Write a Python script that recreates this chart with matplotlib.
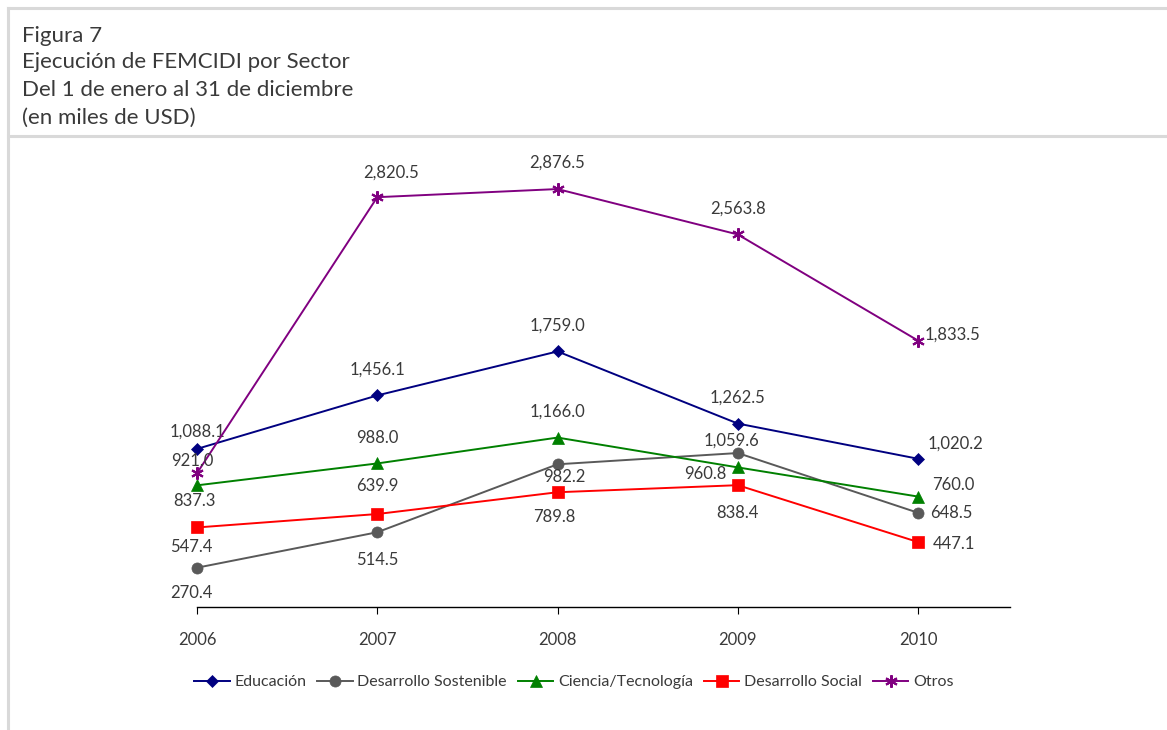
import matplotlib
matplotlib.use("Agg")
import matplotlib.pyplot as plt
from matplotlib.lines import Line2D

years = [2006, 2007, 2008, 2009, 2010]
series_names = ["Educación", "Desarrollo Sostenible", "Ciencia/Tecnología", "Desarrollo Social", "Otros"]
educacion = [1088.1, 1456.1, 1759.0, 1262.5, 1020.2]
sostenible = [270.4, 514.5, 982.2, 1059.6, 648.5]
ciencia = [837.3, 988.0, 1166.0, 960.8, 760.0]
social = [547.4, 639.9, 789.8, 838.4, 447.1]
otros = [921.0, 2820.5, 2876.5, 2563.8, 1833.5]
title_lines = ["Figura 7", "Ejecución de FEMCIDI por Sector",
               "Del 1 de enero al 31 de diciembre", "(en miles de USD)"]

values = [educacion, sostenible, ciencia, social, otros]
colors = ["#000080", "#595959", "#008000", "#FF0000", "#800080"]
markers = ["D", "o", "^", "s", (6, 2, 0)]
msizes = [6, 8, 8, 8, 9]
# label offsets in pixels (dx, dy with dy positive = up)
offsets = [
    [(0, 17), (0, 26), (0, 26), (0, 26), (37, 15)],
    [(-6, -25), (0, -28), (7, -13), (-6, 12), (33, 0)],
    [(-3, -16), (0, 25), (0, 26), (-32, -7), (35, 12)],
    [(-6, -20), (0, 28), (-3, -25), (0, -28), (36, -2)],
    [(-5, 12), (14, 25), (0, 26), (0, 26), (34, 6)],
]

plt.rcParams['font.family'] = ['Lato', 'DejaVu Sans']
W, H = 1167, 730
fig = plt.figure(figsize=(W / 100, H / 100), dpi=100)

def fx(px):
    return px / W

def fy(py):
    return 1 - py / H

# frame lines
border = "#d9d9d9"
fig.add_artist(Line2D([fx(8), 1], [fy(8), fy(8)], color=border, lw=2.2))
fig.add_artist(Line2D([fx(8), 1], [fy(136), fy(136)], color=border, lw=2.2))
fig.add_artist(Line2D([fx(8), fx(8)], [fy(8), 0], color=border, lw=2.2))

text_color = "#3a3a3a"
baselines = [42, 68.5, 96, 123.5]
for line, b in zip(title_lines, baselines):
    fig.text(fx(22), fy(b), line, fontsize=16, color=text_color,
             va="baseline", ha="left")

ax_left, ax_right = 197, 1010
ax_bottom = 607
ymax = 3000
scale = 0.1453
ax_top = ax_bottom - ymax * scale
ax = fig.add_axes([fx(ax_left), fy(ax_bottom), fx(ax_right - ax_left),
                   (ax_bottom - ax_top) / H])
ax.set_xlim(2006, 2010.51)
ax.set_ylim(0, ymax)

for name, vals, c, m, ms, offs in zip(series_names, values, colors, markers, msizes, offsets):
    ax.plot(years, vals, color=c, lw=1.4, marker=m, markersize=ms,
            markeredgewidth=1.5 if m == (6, 2, 0) else 0.5, markeredgecolor=c,
            markerfacecolor=c, label=name, clip_on=False, zorder=3)
    for x, v, (dx, dy) in zip(years, vals, offs):
        ax.annotate(f"{v:,.1f}", (x, v), xytext=(dx, dy), textcoords="offset pixels",
                    ha="center", va="center", fontsize=12, color=text_color,
                    annotation_clip=False)

for s in ["top", "right", "left"]:
    ax.spines[s].set_visible(False)
ax.spines["bottom"].set_color("#000000")
ax.spines["bottom"].set_linewidth(1.0)
ax.set_yticks([])
ax.set_xticks(years)
ax.set_xticklabels([str(y) for y in years], fontsize=12, color=text_color)
ax.tick_params(axis="x", direction="out", length=5, width=0.8, color="#000000", pad=13)

fig.legend(loc="center", bbox_to_anchor=(fx(574), fy(682)), ncol=5, frameon=False,
           fontsize=11.5, handlelength=2.2, handletextpad=0.3, columnspacing=0.7,
           labelcolor=text_color)

fig.savefig("out.png", dpi=100)
